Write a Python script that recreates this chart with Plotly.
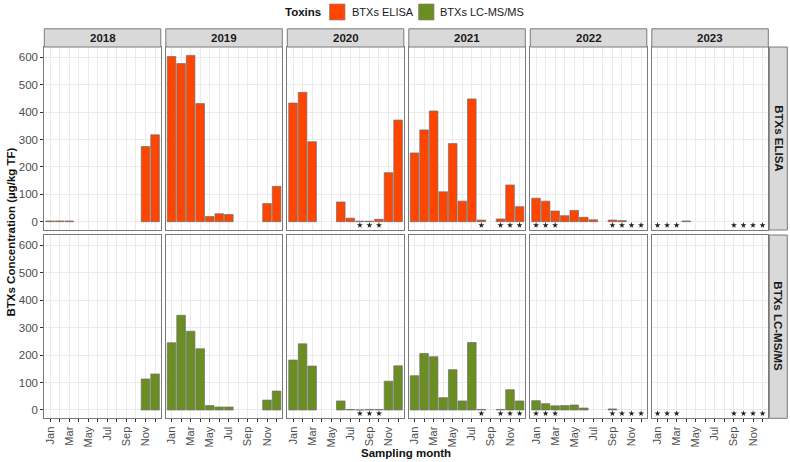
import plotly.graph_objects as go

# ---------------- data ----------------
years = ["2018", "2019", "2020", "2021", "2022", "2023"]
months = ["Jan", "Feb", "Mar", "Apr", "May", "Jun", "Jul", "Aug", "Sep", "Oct", "Nov", "Dec"]
month_labels = ["Jan", "", "Mar", "", "May", "", "Jul", "", "Sep", "", "Nov", ""]
methods = ["BTXs ELISA", "BTXs LC-MS/MS"]
colors = {"BTXs ELISA": "#FF4500", "BTXs LC-MS/MS": "#6B8E23"}

N = None
elisa = {
    "2018": [3, 3, 3, N, N, N, N, N, N, N, 274, 317],
    "2019": [603, 577, 607, 431, 19, 29, 26, N, N, N, 66, 129],
    "2020": [433, 472, 292, N, N, 72, 13, 2, 2, 9, 179, 371],
    "2021": [251, 335, 404, 109, 285, 75, 448, 6, N, 10, 134, 55],
    "2022": [86, 75, 39, 22, 41, 16, 7, N, 6, 4, N, N],
    "2023": [N, N, N, 3, N, N, N, N, N, N, N, N],
}
lcmsms = {
    "2018": [N, N, N, N, N, N, N, N, N, N, 113, 131],
    "2019": [245, 345, 287, 223, 16, 11, 11, N, N, N, 36, 69],
    "2020": [182, 241, 160, N, N, 33, 2, 0, 2, 2, 105, 161],
    "2021": [125, 206, 194, 45, 147, 33, 246, 2, N, 2, 74, 33],
    "2022": [34, 23, 15, 16, 18, 7, N, N, 4, N, N, N],
    "2023": [N, N, N, N, N, N, N, N, N, N, N, N],
}
# months flagged with an asterisk (same for both methods)
star_months = {
    "2018": [],
    "2019": [],
    "2020": ["Aug", "Sep", "Oct"],
    "2021": ["Aug", "Oct", "Nov", "Dec"],
    "2022": ["Jan", "Feb", "Mar", "Sep", "Oct", "Nov", "Dec"],
    "2023": ["Jan", "Feb", "Mar", "Sep", "Oct", "Nov", "Dec"],
}
series = {"BTXs ELISA": elisa, "BTXs LC-MS/MS": lcmsms}
y_ticks = [0, 100, 200, 300, 400, 500, 600]

# ---------------- layout geometry ----------------
W, H = 790, 462
def fx(px):
    return px / W
def fy(py):
    return 1 - py / H

panel_w = 116.5
panel_left = [44.3 + i * 121.5 for i in range(6)]
row_px = [(47.0, 230.0), (235.0, 418.3)]
y_range = [-30.3, 637.6]
star_y = -13

FONT = "Liberation Sans, Arial, sans-serif"
border_col = "#7a7a7a"
grid_col = "#EBEBEB"

fig = go.Figure()
layout = dict(
    width=W, height=H,
    margin=dict(l=0, r=0, t=0, b=0),
    paper_bgcolor="white", plot_bgcolor="white",
    showlegend=False,
    bargap=0.1,
    font=dict(family=FONT),
)
shapes = []
annotations = []

for r, method in enumerate(methods):
    data = series[method]
    for c, yr in enumerate(years):
        k = r * 6 + c + 1
        xa = "x" if k == 1 else f"x{k}"
        ya = "y" if k == 1 else f"y{k}"
        mnum = list(range(1, 13))
        fig.add_trace(go.Bar(
            x=mnum, y=data[yr], xaxis=xa, yaxis=ya, width=0.9,
            marker=dict(color=colors[method], line=dict(color="#6e6e6e", width=0.7)),
            hoverinfo="x+y",
        ))
        sm = [months.index(m) + 1 for m in star_months[yr]]
        if sm:
            fig.add_trace(go.Scatter(
                x=sm, y=[star_y] * len(sm), xaxis=xa, yaxis=ya, mode="markers",
                marker=dict(symbol="star", size=4.5, color="#222222", line=dict(width=0)),
                hoverinfo="skip",
            ))
        x0 = panel_left[c]
        x1 = x0 + panel_w
        top, bot = row_px[r]
        xkey = "xaxis" if k == 1 else f"xaxis{k}"
        ykey = "yaxis" if k == 1 else f"yaxis{k}"
        layout[xkey] = dict(
            domain=[fx(x0), fx(x1)], anchor=ya, range=[0.4, 12.6],
            tickmode="array", tickvals=mnum,
            ticktext=month_labels if r == 1 else [""] * 12,
            showticklabels=(r == 1), ticks="outside" if r == 1 else "",
            ticklen=3, tickcolor="#333333", tickwidth=0.8,
            tickangle=-90, tickfont=dict(size=11, color="#4D4D4D", family=FONT),
            showgrid=True, gridcolor=grid_col, gridwidth=0.7,
            showline=True, mirror=True, linecolor=border_col, linewidth=1,
            zeroline=False, fixedrange=True,
        )
        layout[ykey] = dict(
            domain=[fy(bot), fy(top)], anchor=xa, range=y_range,
            tickmode="array", tickvals=y_ticks,
            showticklabels=(c == 0), ticks="outside" if c == 0 else "",
            ticklen=3, tickcolor="#333333", tickwidth=0.8,
            tickfont=dict(size=11.5, color="#4D4D4D", family=FONT),
            showgrid=True, gridcolor=grid_col, gridwidth=0.7,
            showline=True, mirror=True, linecolor=border_col, linewidth=1,
            zeroline=False, fixedrange=True,
        )

# top strips (years)
for c, yr in enumerate(years):
    x0 = panel_left[c]
    x1 = x0 + panel_w
    shapes.append(dict(type="rect", xref="paper", yref="paper",
                       x0=fx(x0), x1=fx(x1), y0=fy(47), y1=fy(28.8),
                       fillcolor="#D9D9D9", line=dict(color=border_col, width=1)))
    annotations.append(dict(xref="paper", yref="paper", x=fx((x0 + x1) / 2), y=fy(38),
                            text=f"<b>{yr}</b>", showarrow=False,
                            font=dict(size=11.5, color="#1A1A1A", family=FONT),
                            xanchor="center", yanchor="middle"))

# right strips (methods)
for r, method in enumerate(methods):
    top, bot = row_px[r]
    shapes.append(dict(type="rect", xref="paper", yref="paper",
                       x0=fx(769.3), x1=fx(787.3), y0=fy(bot), y1=fy(top),
                       fillcolor="#D9D9D9", line=dict(color=border_col, width=1)))
    annotations.append(dict(xref="paper", yref="paper", x=fx(778.3), y=fy((top + bot) / 2),
                            text=f"<b>{method}</b>", showarrow=False, textangle=90,
                            font=dict(size=11.5, color="#1A1A1A", family=FONT),
                            xanchor="center", yanchor="middle"))

# axis titles
annotations.append(dict(xref="paper", yref="paper", x=fx(406), y=fy(453),
                        text="<b>Sampling month</b>", showarrow=False,
                        font=dict(size=11.5, color="#111111", family=FONT),
                        xanchor="center", yanchor="middle"))
annotations.append(dict(xref="paper", yref="paper", x=fx(10), y=fy(232.5),
                        text="<b>BTXs Concentration (µg/kg TF)</b>", showarrow=False,
                        textangle=-90,
                        font=dict(size=11.5, color="#111111", family=FONT),
                        xanchor="center", yanchor="middle"))

# legend (drawn manually at the top)
annotations.append(dict(xref="paper", yref="paper", x=fx(323), y=fy(12),
                        text="<b>Toxins</b>", showarrow=False,
                        font=dict(size=11.5, color="#111111", family=FONT),
                        xanchor="right", yanchor="middle"))
leg_items = [(329.5, methods[0]), (418.5, methods[1])]
for lx, method in leg_items:
    shapes.append(dict(type="rect", xref="paper", yref="paper",
                       x0=fx(lx), x1=fx(lx + 15.5), y0=fy(20), y1=fy(4),
                       fillcolor=colors[method], line=dict(color="#8a8a8a", width=0.7)))
    annotations.append(dict(xref="paper", yref="paper", x=fx(lx + 20), y=fy(12),
                            text=method, showarrow=False,
                            font=dict(size=11, color="#1A1A1A", family=FONT),
                            xanchor="left", yanchor="middle"))

layout["shapes"] = shapes
layout["annotations"] = annotations
fig.update_layout(**layout)

fig.write_html("out.html")
